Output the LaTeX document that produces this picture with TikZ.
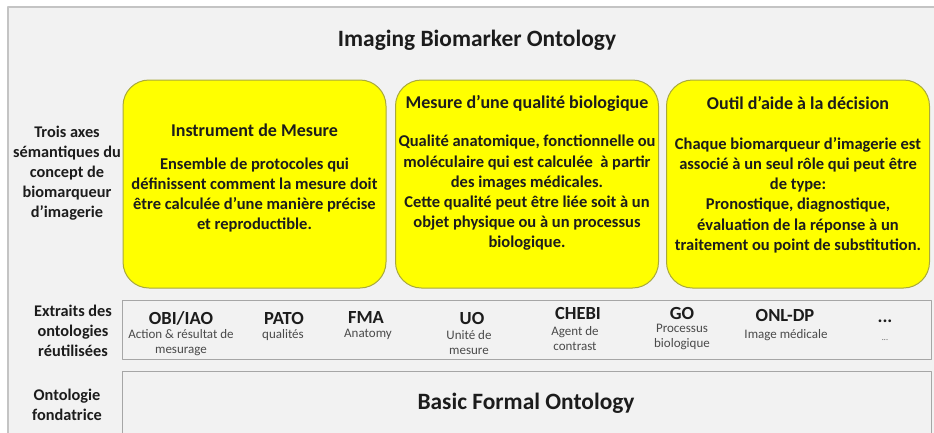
\documentclass[tikz,border=0pt]{standalone}
\usepackage{fontspec}
\setmainfont{Carlito}
\usetikzlibrary{positioning}
\definecolor{fond}{HTML}{F2F2F2}
\definecolor{cadre}{HTML}{C4C4C4}
\definecolor{jaune}{HTML}{FFFF00}
\definecolor{bordjaune}{HTML}{A9A93C}
\definecolor{gristrait}{HTML}{A6A6A6}
\definecolor{encre}{HTML}{1C1C1C}
\definecolor{sousencre}{HTML}{4A4A4A}
\tikzset{
  every picture/.style={line join=round, line cap=round},
  axe/.style={draw=bordjaune, line width=1pt, fill=jaune, rounded corners=26pt,
    minimum width=263pt, minimum height=208pt, inner sep=0pt},
  rang/.style={draw=gristrait, line width=1pt, fill=fond, inner sep=0pt},
  titre/.style={font=\fontsize{23.4}{28}\selectfont\bfseries, text=encre},
  entete/.style={font=\fontsize{18}{22}\selectfont\bfseries, text=encre},
  corps/.style={font=\fontsize{16.5}{20.2}\selectfont\bfseries, text=encre, align=center},
  gauche/.style={font=\fontsize{16.3}{20}\selectfont\bfseries, text=encre, align=center},
  onto/.style={font=\fontsize{18.5}{22}\selectfont\bfseries, text=encre, inner sep=0pt},
  sous/.style={font=\fontsize{13}{15.5}\selectfont, text=sousencre, align=center, inner sep=0pt},
}

\begin{document}
\begin{tikzpicture}[x=1pt,y=-1pt]
\useasboundingbox (0,0) rectangle (934,432);
\clip (0,0) rectangle (934,432);
% cadre general
\draw[draw=cadre, line width=1.2pt, fill=fond] (8,7) rectangle (960,460);
\node[titre] (titre) at (477,40) {Imaging Biomarker Ontology};

% trois axes
\node[axe] (instr) at (254.5,184) {};
\node[axe] (qual) at (527,184) {};
\node[axe] (outil) at (798,184) {};
\node[entete] (instrT) at (254.5,130) {Instrument de Mesure};
\node[entete] (qualT) at (527,103) {Mesure d’une qualité biologique};
\node[entete] (outilT) at (798,103) {Outil d’aide à la décision};
\node[corps] (instrC) at (254.5,195) {Ensemble de protocoles qui\\définissent comment la mesure doit\\être calculée d’une manière précise\\et reproductible.};
\node[corps] (qualC) at (527,193) {Qualité anatomique, fonctionnelle ou\\moléculaire qui est calculée \ à partir\\des images médicales.\\Cette qualité peut être liée soit à un\\objet physique ou à un processus\\biologique.};
\node[corps] (outilC) at (798,195) {Chaque biomarqueur d’imagerie est\\associé à un seul rôle qui peut être\\de type:\\Pronostique, diagnostique,\\évaluation de la réponse à un\\traitement ou point de substitution.};
\node[gauche] (axes) at (67,173) {Trois axes\\sémantiques du\\concept de\\biomarqueur\\d’imagerie};

% ontologies reutilisees
\node[rang, minimum width=809pt, minimum height=59pt] (extraits) at (526.5,329.5) {};
\node[gauche] (extraitsL) at (73,331) {Extraits des\\ontologies\\réutilisées};
\node[onto] (obi) at (181,318) {OBI/IAO};
\node[sous] (obiS) at (181,342.5) {Action \& résultat de\\mesurage};
\node[onto] (pato) at (284,318) {PATO};
\node[sous] (patoS) at (283,335) {qualités};
\node[onto] (fma) at (366,317) {FMA};
\node[sous] (fmaS) at (368,334) {Anatomy};
\node[onto] (uo) at (472,318) {UO};
\node[sous] (uoS) at (469,342.5) {Unité de\\mesure};
\node[onto] (chebi) at (578,313) {CHEBI};
\node[sous] (chebiS) at (575,338.5) {Agent de\\contrast};
\node[onto] (go) at (682,313.5) {GO};
\node[sous] (goS) at (682,337) {Processus\\biologique};
\node[onto] (onl) at (785,315) {ONL-DP};
\node[sous] (onlS) at (786,335) {Image médicale};
\node[onto] (autres) at (885,321) {...};
\node[sous, font=\fontsize{8}{10}\selectfont] (autresS) at (885,340) {...};

% ontologie fondatrice
\node[rang, minimum width=809pt, minimum height=70pt, anchor=north west] (bfo) at (122,371) {};
\node[titre] (bfoT) at (526,403) {Basic Formal Ontology};
\node[gauche] (fondL) at (67,405) {Ontologie\\fondatrice};
\end{tikzpicture}
\end{document}
